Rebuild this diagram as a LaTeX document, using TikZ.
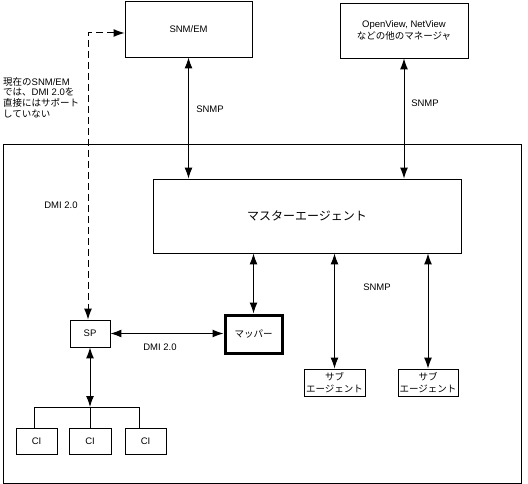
\documentclass[tikz,border=0pt]{standalone}
\usepackage{fontspec}
\setmainfont{Liberation Sans}
\newfontfamily\jp{Noto Sans CJK JP}
\usetikzlibrary{arrows.meta}
\begin{document}
\begin{tikzpicture}[x=1pt,y=-1pt,
    font=\fontsize{9.5}{11}\selectfont,
    box/.style={draw,line width=0.9pt,inner sep=0pt},
    link/.style={{Latex[length=11pt,width=8pt]}-{Latex[length=11pt,width=8pt]},line width=1pt},
    plain/.style={line width=1pt}]
  \useasboundingbox (0,0) rectangle (528,484);
  \draw[line width=0.9pt] (3,144) rectangle (521,483);
  \draw
    (188.5,29) node[box,minimum width=127,minimum height=56] (snm){SNM/EM}
    (404,30.5) node[box,minimum width=128,minimum height=55,align=center] (ov){OpenView, NetView\\[1pt]{\jp などの他のマネージャ}}
    (307,216) node[box,minimum width=308,minimum height=74,font=\fontsize{12}{14}\jp] (master){マスターエージェント}
    (253.5,334) node[box,line width=3pt,minimum width=57,minimum height=38,font=\fontsize{9.5}{11}\jp] (mapper){マッパー}
    (90,333.5) node[box,minimum width=40,minimum height=27] (sp){SP}
    (334.5,382.5) node[box,minimum width=61,minimum height=27,align=center,font=\fontsize{9.5}{11.5}\jp] (sub1){サブ\\エージェント}
    (428,382.5) node[box,minimum width=60,minimum height=27,align=center,font=\fontsize{9.5}{11.5}\jp] (sub2){サブ\\エージェント}
    (36.5,441) node[box,minimum width=41,minimum height=26] (ci1){CI}
    (90,441) node[box,minimum width=42,minimum height=26] (ci2){CI}
    (145.5,441) node[box,minimum width=41,minimum height=26] (ci3){CI};
  % labels
  \draw
    (210,109) node (snmp1){SNMP}
    (425,103) node (snmp2){SNMP}
    (377,287) node (snmp3){SNMP}
    (61,205) node (dmi1){DMI 2.0}
    (160,347) node (dmi2){DMI 2.0}
    (3,77) node[anchor=north west,inner sep=0pt,align=left,font=\fontsize{9.5}{10.8}\selectfont] (note){{\jp 現在の}SNM/EM\\{\jp では、}DMI 2.0{\jp を}\\{\jp 直接にはサポート}\\{\jp していない}};
  \coordinate (bend) at (88,33);
  \coordinate (bus) at (90,407);
  \coordinate (b1) at (34,407);
  \coordinate (b3) at (139,407);
  \begin{scope}[link]
    \draw (snm.south) to (snm.south |- master.north);
    \draw (ov.south) to (ov.south |- master.north);
    \draw (mapper.north |- master.south) to (mapper.north);
    \draw (sub1.north |- master.south) to (sub1.north);
    \draw (sub2.north |- master.south) to (sub2.north);
    \draw (sp.east) to (sp.east -| mapper.west);
    \draw (sp.south) to (bus);
    \draw[dash pattern=on 7pt off 4pt] (snm.west |- bend) -- (bend) -- (bend |- sp.north);
  \end{scope}
  \begin{scope}[plain]
    \draw (b1 |- ci1.north) -- (b1) -- (b3) -- (b3 |- ci3.north);
    \draw (bus) to (ci2.north);
  \end{scope}
\end{tikzpicture}
\end{document}
